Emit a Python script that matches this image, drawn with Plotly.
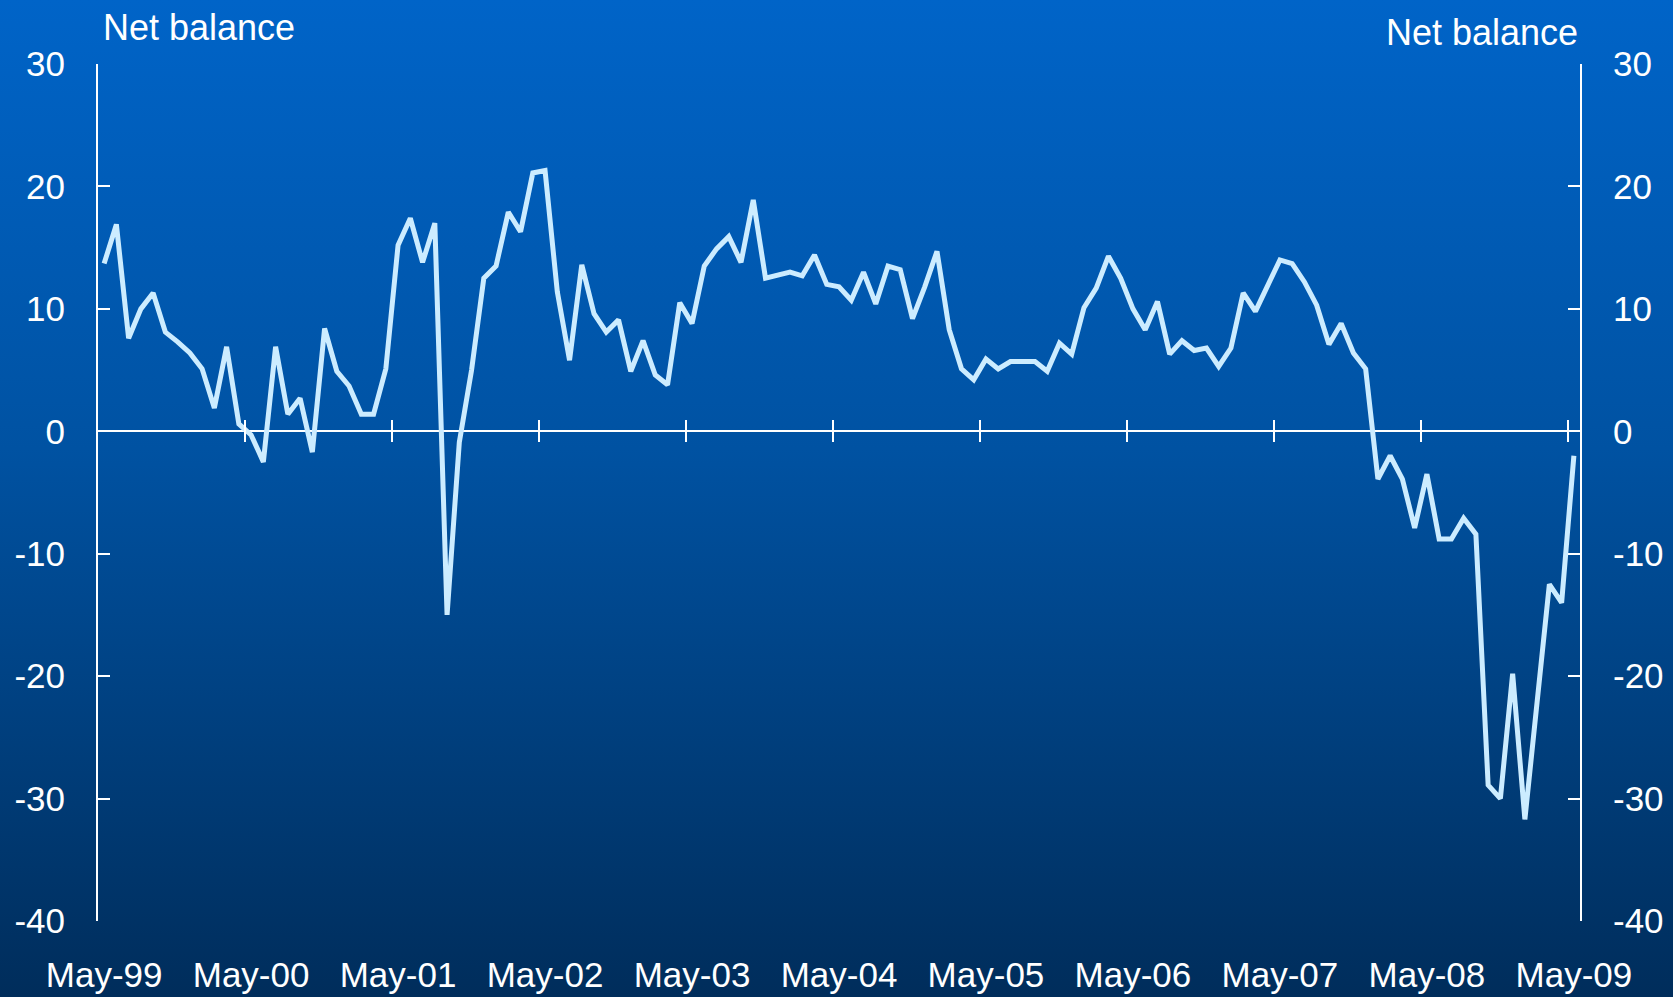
import base64
import plotly.graph_objects as go

# ---- data -------------------------------------------------------------
net_balance = [
    13.7, 16.9, 7.6, 10.0, 11.3, 8.1, 7.3, 6.4, 5.1, 1.9, 6.9, 0.6,
    -0.3, -2.5, 6.9, 1.4, 2.7, -1.7, 8.4, 4.9, 3.7, 1.4, 1.4, 5.1,
    15.2, 17.4, 13.8, 17.0, -15.0, -0.9, 5.0, 12.5, 13.5, 17.9, 16.3, 21.1,
    21.3, 11.4, 5.8, 13.6, 9.6, 8.1, 9.1, 4.9, 7.4, 4.6, 3.8, 10.5,
    8.8, 13.5, 14.9, 15.9, 13.8, 18.9, 12.5, 12.7, 13.0, 12.7, 14.4, 12.0,
    11.8, 10.7, 13.0, 10.4, 13.5, 13.2, 9.2, 11.8, 14.7, 8.3, 5.1, 4.2,
    5.9, 5.1, 5.7, 5.7, 5.7, 4.9, 7.2, 6.3, 10.1, 11.7, 14.3, 12.5,
    10.0, 8.3, 10.6, 6.3, 7.4, 6.6, 6.8, 5.3, 6.8, 11.3, 9.8, 11.9,
    14.0, 13.7, 12.2, 10.3, 7.1, 8.8, 6.4, 5.1, -3.9, -2.0, -3.9, -7.9,
    -3.5, -8.8, -8.8, -7.1, -8.4, -28.9, -30.0, -19.8, -31.7, -22.1, -12.5, -14.0,
    -2.0,
]
month_index = list(range(len(net_balance)))  # May-99 .. May-09, monthly
tick_labels = ["May-99", "May-00", "May-01", "May-02", "May-03", "May-04",
               "May-05", "May-06", "May-07", "May-08", "May-09"]
label_positions = [12 * k for k in range(len(tick_labels))]
y_ticks = [-40, -30, -20, -10, 0, 10, 20, 30]
y_tick_text = ["-40", "-30", "-20", "-10", "0", "10", "20", "30"]
y_title = "Net balance"

# ---- layout geometry --------------------------------------------------
W, H = 1673, 997
ML, MR, MT, MB = 98, 93, 64, 76
PW, PH = W - ML - MR, H - MT - MB
FONT = "Liberation Sans, Arial, sans-serif"
WHITE = "#FFFFFF"
LINE = "#CCECFF"

svg = (
    '<svg xmlns="http://www.w3.org/2000/svg" width="100" height="100" preserveAspectRatio="none">'
    '<defs><linearGradient id="g" x1="0" y1="0" x2="0" y2="1">'
    '<stop offset="0" stop-color="#0064C8"/>'
    '<stop offset="0.45" stop-color="#0052A2"/>'
    '<stop offset="1" stop-color="#002D5B"/>'
    '</linearGradient></defs>'
    '<rect width="100" height="100" fill="url(#g)"/></svg>'
)
bg_src = "data:image/svg+xml;base64," + base64.b64encode(svg.encode()).decode()

x_range = [-0.5, len(net_balance) - 0.5]
y_range = [min(y_ticks), max(y_ticks)]
zero_pos = (0 - y_range[0]) / (y_range[1] - y_range[0])
boundary_ticks = [p - 0.5 for p in label_positions]
XTICK_HALF = 11

fig = go.Figure()
fig.add_trace(go.Scatter(
    x=month_index, y=net_balance, mode="lines",
    line=dict(color=LINE, width=5), showlegend=False, hoverinfo="skip",
))
fig.add_trace(go.Scatter(x=[None], y=[None], xaxis="x2", yaxis="y",
                         showlegend=False, hoverinfo="skip"))
fig.add_trace(go.Scatter(x=[None], y=[None], xaxis="x", yaxis="y2",
                         showlegend=False, hoverinfo="skip"))

axis_font = dict(family=FONT, size=35, color=WHITE)
ytick_common = dict(
    range=y_range, tickmode="array", tickvals=y_ticks, ticktext=y_tick_text,
    ticks="inside", ticklen=12, tickwidth=2, tickcolor=WHITE,
    showline=True, linecolor=WHITE, linewidth=2, showgrid=False,
    tickfont=axis_font, ticklabelstandoff=24, automargin=False,
)

fig.update_layout(
    width=W, height=H,
    margin=dict(l=ML, r=MR, t=MT, b=MB, pad=0, autoexpand=False),
    paper_bgcolor="#004A92",
    plot_bgcolor="rgba(0,0,0,0)",
    font=dict(family=FONT, color=WHITE),
    images=[dict(
        source=bg_src, xref="paper", yref="paper",
        x=-ML / PW, y=1 + MT / PH, sizex=W / PW, sizey=H / PH,
        xanchor="left", yanchor="top", sizing="stretch", layer="below",
    )],
    xaxis=dict(
        range=x_range, tickmode="array", tickvals=label_positions, ticktext=tick_labels,
        ticks="", showline=False, showgrid=False, zeroline=False,
        tickfont=axis_font, ticklabelstandoff=30, automargin=False,
    ),
    xaxis2=dict(
        range=x_range, overlaying="x", anchor="free",
        position=zero_pos - XTICK_HALF / PH,
        tickmode="array", tickvals=boundary_ticks, ticks="inside",
        ticklen=2 * XTICK_HALF, tickwidth=2, tickcolor=WHITE,
        showticklabels=False, showline=False, showgrid=False, zeroline=False,
        automargin=False,
    ),
    yaxis=dict(zeroline=True, zerolinecolor=WHITE, zerolinewidth=2, **ytick_common),
    yaxis2=dict(overlaying="y", side="right", anchor="x", zeroline=False, **ytick_common),
    annotations=[
        dict(text=y_title, xref="paper", yref="paper", x=0, y=1 + (MT - 27) / PH,
             xanchor="left", yanchor="middle", xshift=3, showarrow=False,
             font=dict(family=FONT, size=36, color=WHITE)),
        dict(text=y_title, xref="paper", yref="paper", x=1, y=1 + (MT - 33) / PH,
             xanchor="right", yanchor="middle", showarrow=False,
             font=dict(family=FONT, size=36, color=WHITE)),
    ],
)

fig.write_html("out.html")
